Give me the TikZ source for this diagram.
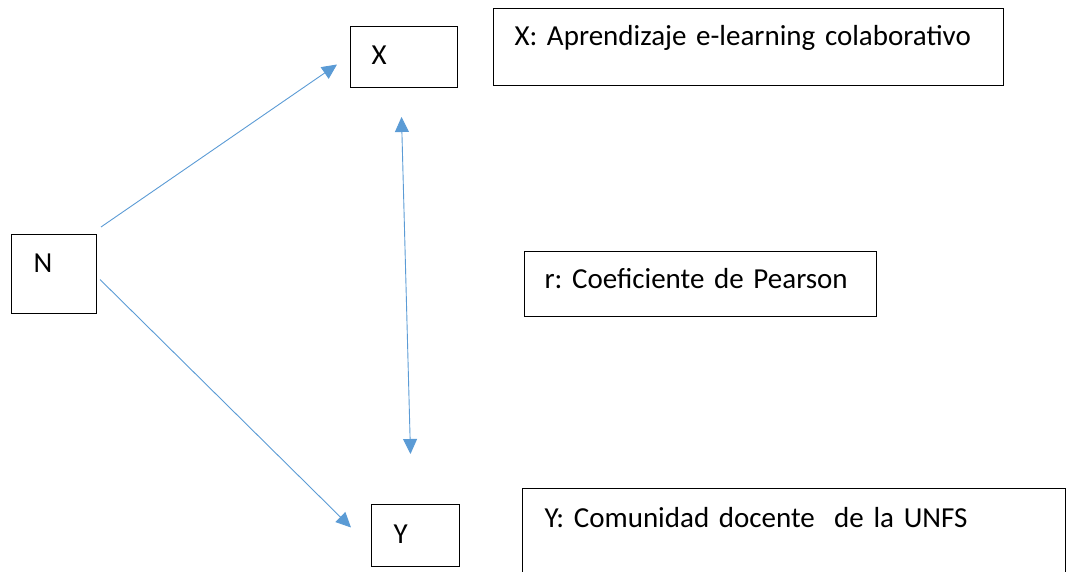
\documentclass[tikz,border=0pt]{standalone}
\usepackage{fontspec}
\setmainfont{Carlito}
\usetikzlibrary{arrows.meta,calc}
\definecolor{linkblue}{RGB}{91,155,213}
\tikzset{
    box/.style={draw,line width=1pt,inner ysep=0pt,anchor=north west,align=left},
    arr/.style={-{Triangle[length=15pt,width=14pt]},linkblue,line width=0.9pt},
    darr/.style={{Triangle[length=15pt,width=14pt]}-{Triangle[length=15pt,width=14pt]},linkblue,line width=0.9pt},
}
\tikzstyle{every node}=[font=\fontsize{29}{34}\selectfont\frenchspacing]

\begin{document}
\begin{tikzpicture}[x=1pt,y=-1pt]
    \useasboundingbox (0,0) rectangle (1067,572);
    % variables
    \node[box,text width=41pt,inner xsep=22pt,text height=38pt,text depth=41pt] (N) at (11,234) {N};
    \node[box,text width=65pt,inner xsep=21pt,text height=38pt,text depth=23pt] (X) at (350,26) {X};
    \node[box,text width=44pt,inner xsep=22pt,text height=39pt,text depth=23pt] (Y) at (371,504) {Y};
    % descriptions
    \node[box,text width=468pt,inner xsep=21pt,text height=37pt,text depth=40pt] (xdesc) at (493,8) {X: Aprendizaje e-learning colaborativo};
    \node[box,text width=312pt,inner xsep=20pt,text height=37pt,text depth=28pt] (rdesc) at (524,251) {r: Coeficiente de Pearson};
    \node[box,text width=499pt,inner xsep=22pt,text height=39pt,text depth=51pt] (ydesc) at (522,488) {Y: Comunidad docente\ \ de la UNFS};
    % arrows
    \draw[arr] ($(N.north east)+(4,-7)$) -- ($(X.west)+(-13,7.5)$);
    \draw[arr] ($(N.east)+(3,5.5)$) -- ($(Y.west)+(-20,-8)$);
    \draw[darr] ($(X.south)+(-2.5,29)$) -- ($(Y.north)+(-5,-50)$);
\end{tikzpicture}
\end{document}
